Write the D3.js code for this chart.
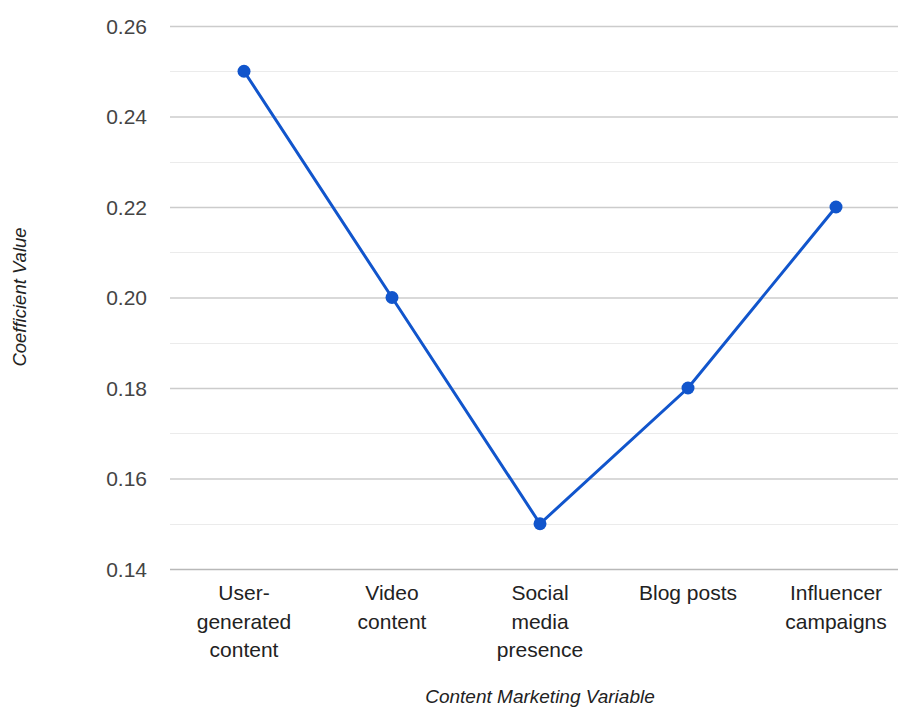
<!DOCTYPE html>
<html>
<head>
<meta charset="utf-8">
<script src="https://cdn.jsdelivr.net/npm/d3@7"></script>
<style>
  html, body { margin: 0; padding: 0; background: #fff; }
  svg { display: block; font-family: "Liberation Sans", Arial, sans-serif; }
</style>
</head>
<body>
<svg id="chart" width="898" height="707"></svg>
<script>
// Content marketing variables and their coefficient values
const categories = ["User-generated content", "Video content", "Social media presence", "Blog posts", "Influencer campaigns"];
const categoryLines = [["User-", "generated", "content"], ["Video", "content"], ["Social", "media", "presence"], ["Blog posts"], ["Influencer", "campaigns"]];
const coefficients = [0.25, 0.20, 0.15, 0.18, 0.22];
const yTicks = [0.14, 0.16, 0.18, 0.20, 0.22, 0.24, 0.26];
const yMinorTicks = [0.15, 0.17, 0.19, 0.21, 0.23, 0.25];

const svg = d3.select("#chart");
const margin = { left: 170, top: 26, right: -12, bottom: 138 };
const W = 898, H = 707;
const plotW = W - margin.left - margin.right;
const plotH = H - margin.top - margin.bottom;

const x = d3.scaleBand().domain(categories).range([margin.left, margin.left + plotW]).padding(0);
const y = d3.scaleLinear().domain([0.14, 0.26]).range([margin.top + plotH, margin.top]);

// minor gridlines
svg.append("g").selectAll("line").data(yMinorTicks).join("line")
  .attr("x1", margin.left).attr("x2", margin.left + plotW)
  .attr("y1", d => Math.round(y(d)) + 0.5).attr("y2", d => Math.round(y(d)) + 0.5)
  .attr("stroke", "#ebebeb").attr("stroke-width", 1.2);

// y axis with major gridlines
const yAxis = d3.axisLeft(y).tickValues(yTicks).tickFormat(d3.format(".2f")).tickSize(0).tickPadding(23);
const gy = svg.append("g").attr("transform", `translate(${margin.left},0)`).call(yAxis);
gy.select(".domain").remove();
gy.selectAll(".tick text").attr("fill", "#444").attr("font-size", 21)
  .attr("font-family", "'Liberation Sans', Arial, sans-serif").attr("dy", "0.35em");
gy.selectAll(".tick line")
  .attr("x2", plotW)
  .attr("stroke", d => d === 0.14 ? "#b8b8b8" : "#cccccc")
  .attr("stroke-width", 1.3);

// x category labels
const gx = svg.append("g");
categories.forEach((c, i) => {
  const t = gx.append("text")
    .attr("x", x(c) + x.bandwidth() / 2)
    .attr("y", 600)
    .attr("text-anchor", "middle")
    .attr("font-size", 21)
    .attr("fill", "#222");
  categoryLines[i].forEach((ln, j) => {
    t.append("tspan").attr("x", x(c) + x.bandwidth() / 2).attr("dy", j === 0 ? 0 : 28.5).text(ln);
  });
});

// axis titles
svg.append("text")
  .attr("x", 540).attr("y", 703)
  .attr("text-anchor", "middle")
  .attr("font-size", 19).attr("font-style", "italic").attr("fill", "#222")
  .text("Content Marketing Variable");

svg.append("text")
  .attr("transform", "translate(26,297) rotate(-90)")
  .attr("text-anchor", "middle")
  .attr("font-size", 18.5).attr("font-style", "italic").attr("fill", "#222")
  .text("Coefficient Value");

// line series
const cx = (d, i) => x(categories[i]) + x.bandwidth() / 2;
const line = d3.line().x((d, i) => cx(d, i)).y(d => y(d));
svg.append("path").datum(coefficients)
  .attr("d", line)
  .attr("fill", "none")
  .attr("stroke", "#1155cc")
  .attr("stroke-width", 3);

svg.append("g").selectAll("circle").data(coefficients).join("circle")
  .attr("cx", (d, i) => cx(d, i))
  .attr("cy", d => y(d))
  .attr("r", 6.5)
  .attr("fill", "#1155cc");
</script>
</body>
</html>
